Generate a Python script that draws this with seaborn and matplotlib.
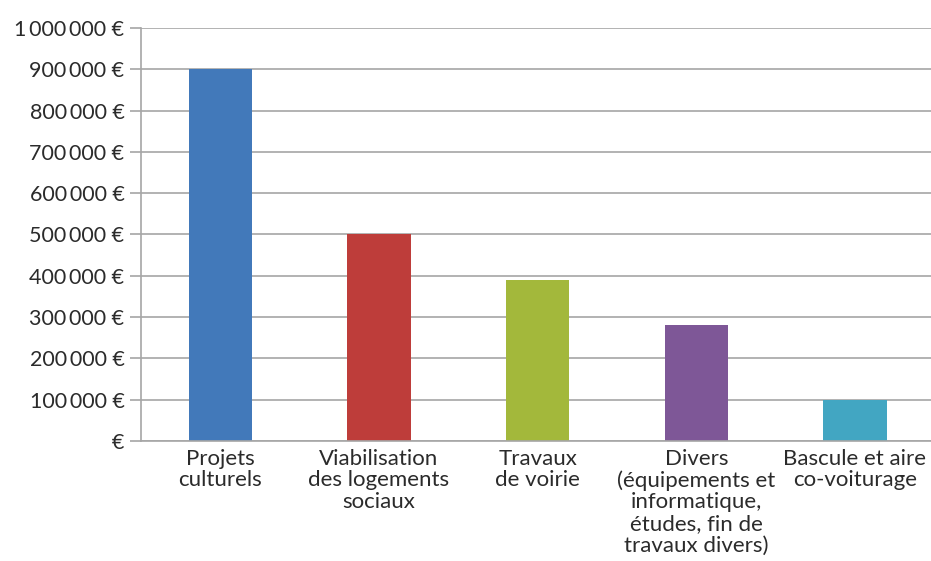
import pandas as pd
import matplotlib
matplotlib.use("Agg")
import matplotlib.pyplot as plt
import seaborn as sns

# Data
categories = [
    "Projets\nculturels",
    "Viabilisation\ndes logements\nsociaux",
    "Travaux\nde voirie",
    "Divers\n(équipements et\ninformatique,\nétudes, fin de\ntravaux divers)",
    "Bascule et aire\nco-voiturage",
]
amounts = [900000, 500000, 390000, 280000, 100000]
bar_colors = ["#4279BA", "#BE3D3A", "#A3B83B", "#7E5797", "#42A6C2"]

y_ticks = [0, 100000, 200000, 300000, 400000, 500000, 600000, 700000, 800000, 900000, 1000000]
y_tick_labels = ["€", "100\u2009000 €", "200\u2009000 €", "300\u2009000 €", "400\u2009000 €",
                 "500\u2009000 €", "600\u2009000 €", "700\u2009000 €", "800\u2009000 €",
                 "900\u2009000 €", "1\u2009000\u2009000 €"]

sns.set_style("white")
plt.rcParams["font.family"] = ["Lato", "DejaVu Sans"]

df = pd.DataFrame({"categorie": categories, "montant": amounts})

fig = plt.figure(figsize=(9.31, 5.61), dpi=100)
ax = fig.add_axes([0.1515, 0.214, 0.852, 0.736])

sns.barplot(data=df, x="categorie", y="montant", hue="categorie",
            palette=bar_colors, width=0.40, legend=False, ax=ax,
            saturation=1, linewidth=0)

ax.set_ylim(0, 1000000)
ax.set_xlim(-0.5, 4.5)
ax.set_yticks(y_ticks)
ax.set_yticklabels(y_tick_labels)
ax.set_xlabel("")
ax.set_ylabel("")

grid_color = "#A6A6A6"
ax.yaxis.grid(True, color=grid_color, linewidth=1.2)
ax.set_axisbelow(True)
for side in ["top", "right"]:
    ax.spines[side].set_visible(False)
for side in ["left", "bottom"]:
    ax.spines[side].set_color(grid_color)
    ax.spines[side].set_linewidth(1.2)

ax.tick_params(axis="y", left=True, length=8, width=1.2, color=grid_color,
               labelsize=15.5, labelcolor="#2b2b2b", pad=4)
ax.tick_params(axis="x", bottom=False, labelsize=16, labelcolor="#2b2b2b", pad=2)
for lbl in ax.get_xticklabels():
    lbl.set_linespacing(1.1)

fig.savefig("out.png", dpi=100)
plt.close(fig)
